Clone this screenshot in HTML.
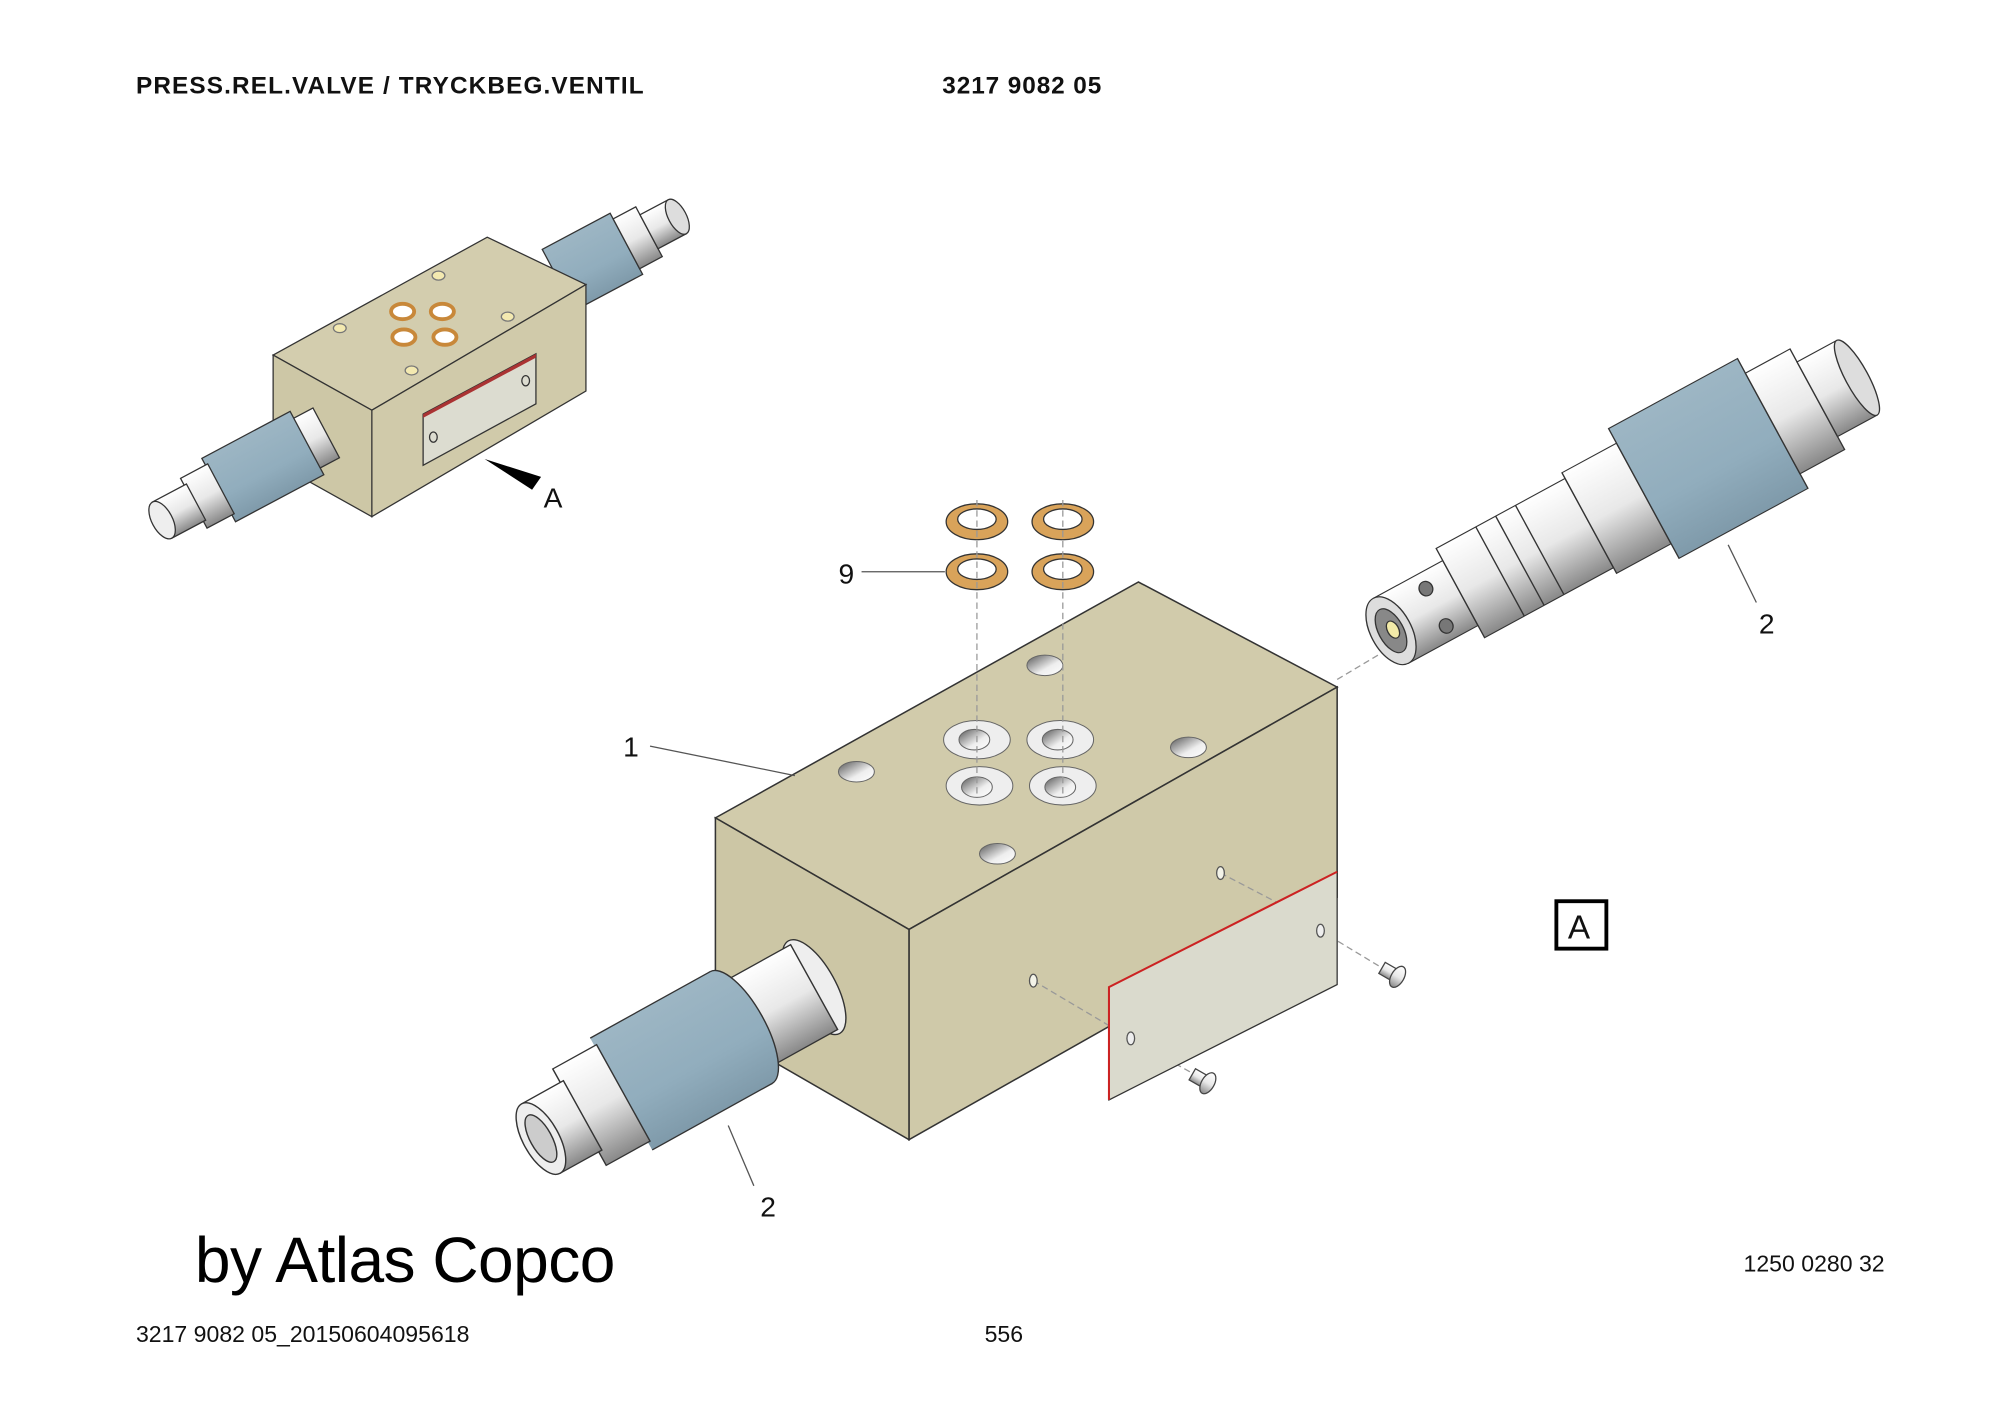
<!DOCTYPE html>
<html><head><meta charset="utf-8"><style>
html,body{margin:0;padding:0;background:#fff}
svg{display:block}
text{font-family:"Liberation Sans",sans-serif}
</style></head><body>
<svg width="2000" height="1414" viewBox="0 0 1560 1103" xmlns="http://www.w3.org/2000/svg">
<defs>
<linearGradient id="cyl" x1="0" y1="0" x2="0" y2="1"><stop offset="0" stop-color="#fff"/><stop offset="0.5" stop-color="#e8e8e8"/><stop offset="1" stop-color="#888"/></linearGradient>
<linearGradient id="blue" x1="0" y1="0" x2="0" y2="1"><stop offset="0" stop-color="#9db6c4"/><stop offset="0.6" stop-color="#91adbd"/><stop offset="1" stop-color="#7f9aaa"/></linearGradient>
<linearGradient id="hole" x1="0" y1="0" x2="1" y2="1"><stop offset="0" stop-color="#555"/><stop offset="0.6" stop-color="#eee"/><stop offset="1" stop-color="#fff"/></linearGradient>
</defs>

<text x="106" y="73" font-size="19" font-weight="bold" fill="#111" textLength="396">PRESS.REL.VALVE / TRYCKBEG.VENTIL</text>
<text x="735" y="73" font-size="19" font-weight="bold" fill="#111" textLength="124">3217 9082 05</text>

<!-- small assembly -->
<g stroke="#333" stroke-width="1">
 <g transform="translate(440,216) rotate(-28)">
  <rect x="-5" y="-27" width="60" height="54" fill="url(#blue)"/>
  <rect x="55" y="-22" width="20" height="44" fill="url(#cyl)"/>
  <rect x="75" y="-15" width="25" height="30" fill="url(#cyl)"/>
  <ellipse cx="100" cy="0" rx="7" ry="15" fill="#ddd"/>
 </g>
 <polygon points="213,277 380,185 457,222 290,320" fill="#d3cdae"/>
 <polygon points="290,320 457,222 457,305 290,403" fill="#d0caaa"/>
 <polygon points="213,277 290,320 290,403 213,360" fill="#cdc7a6"/>
 <polygon points="330,323 418,276 418,315 330,363" fill="#dcdcd0" stroke="#333"/>
 <polygon points="330,323 418,276 418,279 330,326" fill="#a33" stroke="none"/>
 <ellipse cx="338" cy="341" rx="3" ry="4" fill="none"/>
 <ellipse cx="410" cy="297" rx="3" ry="4" fill="none"/>
 <g transform="translate(250,340) rotate(-28)">
  <rect x="-15" y="-22" width="20" height="44" fill="url(#cyl)"/>
  <rect x="-90" y="-28" width="78" height="56" fill="url(#blue)"/>
  <rect x="-112" y="-22" width="24" height="44" fill="url(#cyl)"/>
  <rect x="-140" y="-16" width="30" height="32" fill="url(#cyl)"/>
  <ellipse cx="-140" cy="0" rx="8" ry="16" fill="#eee"/>
 </g>
 <g fill="#f3e9b0" stroke="#777">
  <ellipse cx="342" cy="215" rx="5" ry="3.5"/><ellipse cx="265" cy="256" rx="5" ry="3.5"/>
  <ellipse cx="396" cy="247" rx="5" ry="3.5"/><ellipse cx="321" cy="289" rx="5" ry="3.5"/>
 </g>
 <g fill="#fff" stroke="#c8883a" stroke-width="3">
  <ellipse cx="314" cy="243" rx="9" ry="6"/><ellipse cx="345" cy="243" rx="9" ry="6"/>
  <ellipse cx="315" cy="263" rx="9" ry="6"/><ellipse cx="347" cy="263" rx="9" ry="6"/>
 </g>
</g>
<polygon points="378,358 422,372 415,382" fill="#000"/>
<text x="424" y="396" font-size="22" fill="#111">A</text>

<!-- rings -->
<g fill="#fff" stroke="#333" stroke-width="1">
 <ellipse cx="762" cy="407" rx="24" ry="14" fill="#d9a35a"/><ellipse cx="762" cy="405" rx="15" ry="8"/>
 <ellipse cx="829" cy="407" rx="24" ry="14" fill="#d9a35a"/><ellipse cx="829" cy="405" rx="15" ry="8"/>
 <ellipse cx="762" cy="446" rx="24" ry="14" fill="#d9a35a"/><ellipse cx="762" cy="444" rx="15" ry="8"/>
 <ellipse cx="829" cy="446" rx="24" ry="14" fill="#d9a35a"/><ellipse cx="829" cy="444" rx="15" ry="8"/>
</g>
<line x1="672" y1="446" x2="737" y2="446" stroke="#555"/>
<text x="654" y="455" font-size="22" fill="#111">9</text>

<!-- main block -->
<g stroke="#333" stroke-width="1.2">
 <polygon points="558,638 888,454 1043,536 709,725" fill="#d1cbab"/>
 <polygon points="709,725 1043,536 1043,700 709,889" fill="#cfc9a9"/>
 <polygon points="558,638 709,725 709,889 558,802" fill="#ccc6a5"/>
</g>
<g stroke="#666" stroke-width="0.8">
 <g fill="#eee"><ellipse cx="762" cy="577" rx="26" ry="15"/><ellipse cx="827" cy="577" rx="26" ry="15"/><ellipse cx="764" cy="613" rx="26" ry="15"/><ellipse cx="829" cy="613" rx="26" ry="15"/></g>
 <g fill="url(#hole)"><ellipse cx="760" cy="577" rx="12" ry="8"/><ellipse cx="825" cy="577" rx="12" ry="8"/><ellipse cx="762" cy="614" rx="12" ry="8"/><ellipse cx="827" cy="614" rx="12" ry="8"/>
 <ellipse cx="668" cy="602" rx="14" ry="8"/><ellipse cx="815" cy="519" rx="14" ry="8"/><ellipse cx="927" cy="583" rx="14" ry="8"/><ellipse cx="778" cy="666" rx="14" ry="8"/></g>
</g>
<g stroke="#999" stroke-dasharray="5,3" fill="none">
 <line x1="762" y1="390" x2="762" y2="620"/><line x1="829" y1="390" x2="829" y2="620"/>
 <line x1="806" y1="765" x2="865" y2="800"/><line x1="952" y1="681" x2="1000" y2="706"/>
 <line x1="882" y1="810" x2="935" y2="840"/><line x1="1030" y1="726" x2="1078" y2="755"/>
 <line x1="1043" y1="530" x2="1085" y2="505"/>
</g>
<line x1="507" y1="582" x2="620" y2="605" stroke="#555"/>
<text x="486" y="590" font-size="22" fill="#111">1</text>
<g fill="#f3f3e8" stroke="#555"><ellipse cx="806" cy="765" rx="3" ry="5"/><ellipse cx="952" cy="681" rx="3" ry="5"/></g>

<!-- plate -->
<polygon points="865,770 1043,680 1043,768 865,858" fill="#dadacd" stroke="#333"/>
<polyline points="865,858 865,770 1043,680" fill="none" stroke="#c22" stroke-width="1.6"/>
<g fill="#eee" stroke="#555"><ellipse cx="882" cy="810" rx="3" ry="5"/><ellipse cx="1030" cy="726" rx="3" ry="5"/></g>
<!-- screws -->
<g stroke="#444" fill="url(#cyl)">
 <g transform="translate(1078,755) rotate(30)"><rect x="0" y="-5" width="12" height="10"/><ellipse cx="14" cy="0" rx="5" ry="9"/></g>
 <g transform="translate(930,838) rotate(30)"><rect x="0" y="-5" width="12" height="10"/><ellipse cx="14" cy="0" rx="5" ry="9"/></g>
</g>

<!-- left valve -->
<g stroke="#333" stroke-width="1.2" transform="translate(635,770) rotate(-29) scale(0.93,0.86)">
 <ellipse cx="0" cy="0" rx="18" ry="48" fill="#eee"/>
 <rect x="-70" y="-44" width="70" height="88" fill="url(#cyl)"/>
 <ellipse cx="-70" cy="0" rx="20" ry="58" fill="url(#blue)"/>
 <rect x="-185" y="-58" width="115" height="116" fill="url(#blue)" stroke="none"/>
 <line x1="-185" y1="-58" x2="-70" y2="-58"/><line x1="-185" y1="58" x2="-70" y2="58"/>
 <rect x="-225" y="-50" width="42" height="100" fill="url(#cyl)"/>
 <rect x="-262" y="-36" width="40" height="72" fill="url(#cyl)"/>
 <ellipse cx="-262" cy="0" rx="15" ry="36" fill="#eee"/>
 <ellipse cx="-262" cy="0" rx="9" ry="24" fill="#ccc"/>
</g>
<line x1="568" y1="878" x2="588" y2="925" stroke="#555"/>
<text x="593" y="949" font-size="22" fill="#111">2</text>

<!-- right valve -->
<g stroke="#333" stroke-width="1.2" transform="translate(1085,492) rotate(-28.5) scale(0.88,0.72)">
 <rect x="0" y="-40" width="70" height="80" fill="url(#cyl)"/>
 <rect x="70" y="-55" width="130" height="110" fill="url(#cyl)"/>
 <line x1="110" y1="-55" x2="110" y2="55"/><line x1="130" y1="-55" x2="130" y2="55"/><line x1="150" y1="-55" x2="150" y2="55"/>
 <rect x="200" y="-62" width="55" height="124" fill="url(#cyl)"/>
 <rect x="255" y="-80" width="130" height="160" fill="url(#blue)"/>
 <rect x="385" y="-62" width="45" height="124" fill="url(#cyl)"/>
 <rect x="430" y="-46" width="40" height="92" fill="url(#cyl)"/>
 <ellipse cx="470" cy="0" rx="10" ry="46" fill="#ddd"/>
 <ellipse cx="0" cy="0" rx="18" ry="40" fill="#ddd"/>
 <ellipse cx="0" cy="0" rx="11" ry="26" fill="#888"/>
 <ellipse cx="2" cy="0" rx="5" ry="10" fill="#f2eaa8"/>
 <ellipse cx="45" cy="-22" rx="6" ry="8" fill="#777"/><ellipse cx="45" cy="24" rx="6" ry="8" fill="#777"/>
</g>
<line x1="1348" y1="425" x2="1370" y2="470" stroke="#555"/>
<text x="1372" y="494" font-size="22" fill="#111">2</text>

<rect x="1214" y="703" width="39" height="37" fill="none" stroke="#000" stroke-width="3"/>
<text x="1223" y="732" font-size="26" fill="#111">A</text>

<text x="152" y="1000" font-size="50" fill="#000" textLength="328">by Atlas Copco</text>
<text x="1360" y="992" font-size="18" fill="#111">1250 0280 32</text>
<text x="106" y="1047" font-size="18" fill="#111">3217 9082 05_20150604095618</text>
<text x="768" y="1047" font-size="18" fill="#111">556</text>
</svg>
</body></html>
